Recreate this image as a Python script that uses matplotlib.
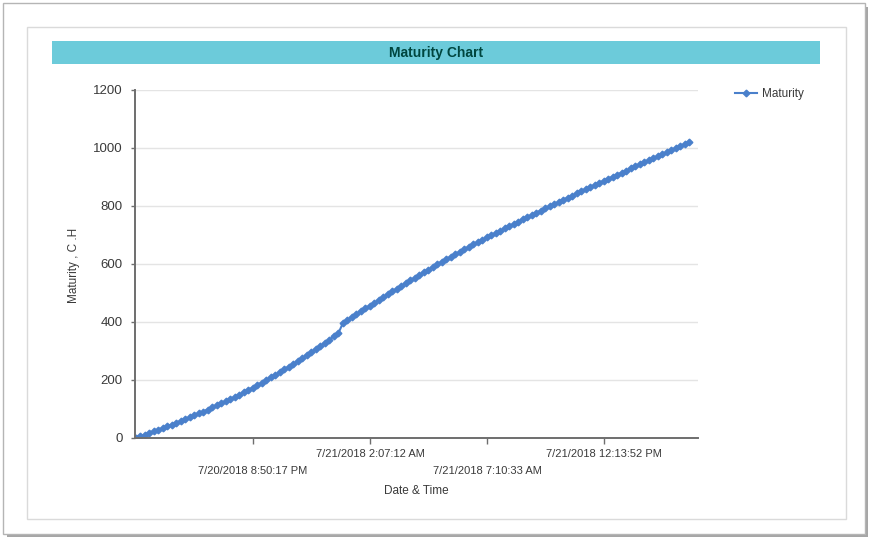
import matplotlib
matplotlib.use('Agg')
import matplotlib.pyplot as plt
from matplotlib.patches import Rectangle
import numpy as np

# ---- data ----
maturity = [
    0, 5.5, 11, 16.8, 22.6, 28.5, 34.4, 40.4, 46.5, 52.6,
    58.8, 65.1, 71.5, 78, 84.6, 91.3, 98.2, 105.2, 112.3, 119.5,
    126.9, 134.4, 142, 149.8, 157.7, 165.8, 174, 182.4, 191, 199.8,
    208.8, 218, 227.3, 236.8, 246.4, 256.2, 266.1, 276.2, 286.4, 296.7,
    307.2, 317.8, 328.6, 339.5, 350.6, 361.8, 397, 407.1, 417.1, 427.1,
    437.0, 446.9, 456.7, 466.5, 476.2, 485.9, 495.6, 505.2, 514.8, 524.3,
    533.8, 543.2, 552.6, 562.0, 571.3, 580.6, 589.8, 599.0, 607.8, 616.5,
    625.2, 633.8, 642.3, 650.7, 659.0, 667.3, 675.5, 683.6, 691.6, 699.5,
    707.4, 715.2, 723.0, 730.8, 738.5, 746.2, 753.9, 761.5, 769.1, 776.7,
    784.2, 791.7, 799.2, 806.6, 814.0, 821.4, 828.8, 836.1, 843.4, 850.7,
    858.0, 865.3, 872.5, 879.7, 886.9, 894.0, 901.1, 908.2, 915.3, 922.4,
    929.5, 936.6, 943.6, 950.6, 957.6, 964.6, 971.6, 978.6, 985.6, 992.6,
    999.6, 1006.6, 1013.6, 1020.6,
]
tick_index = [26, 52, 78, 104]
tick_labels = ['7/20/2018 8:50:17 PM', '7/21/2018 2:07:12 AM',
               '7/21/2018 7:10:33 AM', '7/21/2018 12:13:52 PM']
y_ticks = [0, 200, 400, 600, 800, 1000, 1200]
series_name = 'Maturity'
title = 'Maturity Chart'
x_title = 'Date & Time'
y_title = 'Maturity , C .H'

plt.rcParams['font.family'] = ['Liberation Sans', 'DejaVu Sans']

W, H = 869, 539
fig = plt.figure(figsize=(W / 100, H / 100), dpi=100)


def rect(x0, y0, x1, y1, **kw):
    r = Rectangle((x0 / W, 1 - y1 / H), (x1 - x0) / W, (y1 - y0) / H,
                  transform=fig.transFigure, **kw)
    fig.patches.append(r)
    return r


# frames
rect(7, 7, 868, 537, fc='#A6A6A6', ec='none', zorder=-10)
rect(3, 3, 865, 534, fc='white', ec='#B5B5B5', lw=1, zorder=-9)
rect(27, 27, 846, 519, fc='white', ec='#DADADA', lw=1, zorder=-8)
rect(52, 41, 820, 64, fc='#6CCBDA', ec='none', zorder=-7)
fig.text(436 / W, 1 - 53 / H, title, ha='center', va='center', fontsize=10,
         fontweight='bold', color='#00463F')

ax = fig.add_axes([135 / W, 1 - 438 / H, 563 / W, 348 / H])
ax.patch.set_alpha(0)

x = np.arange(len(maturity))
ax.plot(x, maturity, color='#4A80CB', lw=1.5, marker='D', ms=3.4,
        label=series_name)

ax.set_xlim(-0.22, 124.9)
ax.set_ylim(0, 1200)
ax.set_yticks(y_ticks)
ax.grid(axis='y', color='#E4E4E4', lw=1)
ax.set_axisbelow(True)

for s in ['top', 'right']:
    ax.spines[s].set_visible(False)
for s in ['left', 'bottom']:
    ax.spines[s].set_color('#6E6E6E')
    ax.spines[s].set_linewidth(1.4)

labels = [('\n' + t) if i % 2 == 0 else t for i, t in enumerate(tick_labels)]
ax.set_xticks(tick_index)
ax.set_xticklabels(labels)
for lbl in ax.get_xticklabels():
    lbl.set_linespacing(1.8)
ax.tick_params(axis='x', length=4, width=1, color='#6E6E6E', pad=4,
               labelsize=8, labelcolor='#3A3A3A')
ax.tick_params(axis='y', length=3, width=1, color='#6E6E6E', pad=6,
               labelsize=9.5, labelcolor='#3A3A3A')

ax.set_xlabel(x_title, fontsize=8.5, color='#3A3A3A')
ax.xaxis.set_label_coords(0.499, -0.152)
ax.xaxis.label.set_va('center')
ax.set_ylabel(y_title, fontsize=8.5, color='#3A3A3A')
ax.yaxis.set_label_coords(-0.108, 0.497)
ax.yaxis.label.set_va('center')

ax.legend(loc='center left', bbox_to_anchor=(735 / W, 1 - 94 / H),
          bbox_transform=fig.transFigure, frameon=False, handlelength=1.9,
          fontsize=8.5, borderpad=0, borderaxespad=0, handletextpad=0.4,
          labelcolor='#3A3A3A')

fig.savefig('out.png', dpi=100)
